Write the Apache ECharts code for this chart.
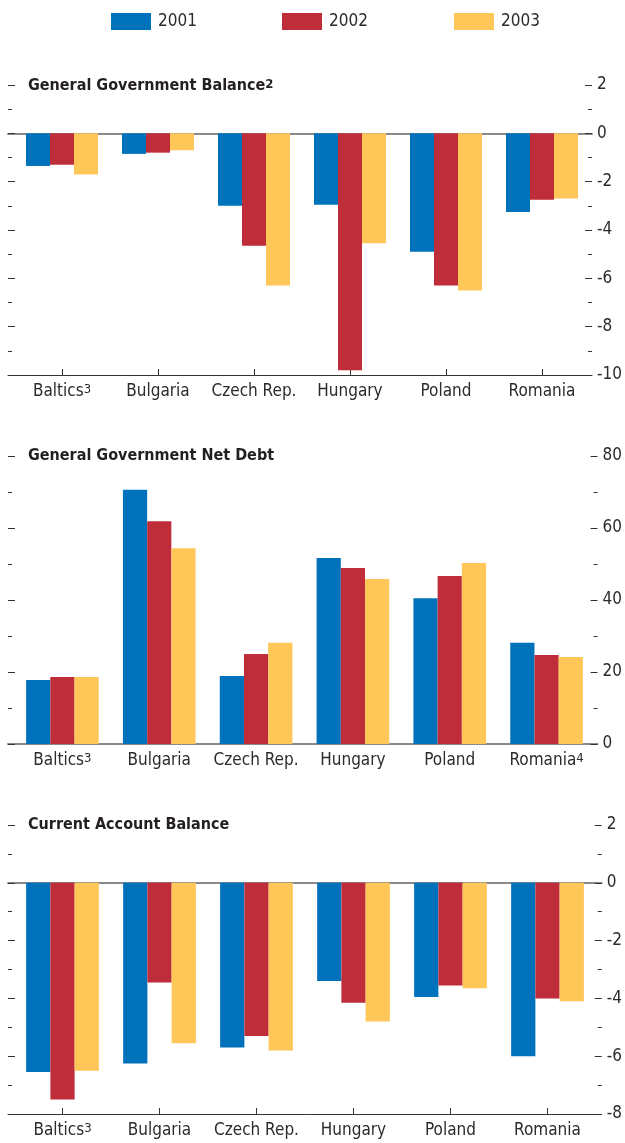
<!DOCTYPE html>
<html>
<head>
<meta charset="utf-8">
<script src="https://cdn.jsdelivr.net/npm/echarts@6/dist/echarts.min.js"></script>
<style>
html,body{margin:0;padding:0;background:#fff;}
#chart{width:625px;height:1143px;}
</style>
</head>
<body>
<div id="chart"></div>
<script>
// ---- data ----
var years = ['2001', '2002', '2003'];
var countries = ['Baltics', 'Bulgaria', 'Czech Rep.', 'Hungary', 'Poland', 'Romania'];
var notesBalance = ['3', '', '', '', '', ''];
var notesDebt = ['3', '', '', '', '', '4'];
var notesCA = ['3', '', '', '', '', ''];

var titleBalance = 'General Government Balance';
var titleBalanceNote = '2';
var titleDebt = 'General Government Net Debt';
var titleCA = 'Current Account Balance';

var balance2001 = [-1.35, -0.85, -3.0, -2.95, -4.9, -3.25];
var balance2002 = [-1.3, -0.8, -4.65, -9.8, -6.3, -2.75];
var balance2003 = [-1.7, -0.7, -6.3, -4.55, -6.5, -2.7];

var debt2001 = [17.8, 70.6, 18.9, 51.7, 40.5, 28.1];
var debt2002 = [18.6, 61.9, 25.0, 48.9, 46.7, 24.7];
var debt2003 = [18.6, 54.4, 28.1, 45.8, 50.3, 24.2];

var ca2001 = [-6.55, -6.25, -5.7, -3.4, -3.95, -6.0];
var ca2002 = [-7.5, -3.45, -5.3, -4.15, -3.55, -4.0];
var ca2003 = [-6.5, -5.55, -5.8, -4.8, -3.65, -4.1];

// axis ranges (tick labels come from these)
var balanceAxis = [-10, 2, 2];   // min, max, interval
var debtAxis = [0, 80, 20];
var caAxis = [-8, 2, 2];

// ---- style ----
var colors = ['#0072BC', '#BF2C3A', '#FFC658'];
var FONT = "'Liberation Sans Narrow', 'DejaVu Sans Condensed', 'Roboto', sans-serif";
var TXT = '#2b2b2b';
var FS = 17;

var grids = [], xAxes = [], yAxes = [], series = [], titles = [];

function panel(cfg) {
  var fIdx = grids.length;
  grids.push({left: 8, right: cfg.frameRight, top: cfg.top, height: cfg.height});
  var bIdx = grids.length;
  grids.push({left: 14, right: cfg.frameRight + 6, top: cfg.top, height: cfg.height});

  // frame bottom line
  xAxes.push({gridIndex: fIdx, type: 'value', min: 0, max: 1, position: 'bottom',
    axisLine: {show: true, onZero: false, lineStyle: {color: cfg.bottomColor, width: cfg.bottomWidth}},
    axisTick: {show: false}, axisLabel: {show: false}, splitLine: {show: false}});
  if (cfg.zeroLine) {
    xAxes.push({gridIndex: fIdx, type: 'value', min: 0, max: 1, position: 'top',
      axisLine: {show: true, onZero: true, lineStyle: {color: '#8a8a8a', width: 2}},
      axisTick: {show: false}, axisLabel: {show: false}, splitLine: {show: false}});
  }
  var catIdx = xAxes.length;
  xAxes.push({gridIndex: bIdx, type: 'category', data: countries, position: 'bottom',
    axisLine: {show: false, onZero: false},
    axisTick: {show: cfg.catTicks, alignWithLabel: true, inside: true, length: 6, lineStyle: {color: '#333', width: 1}},
    axisLabel: {interval: 0, margin: 8, fontFamily: FONT, fontSize: FS, color: TXT,
      formatter: function (v, i) { return cfg.notes[i] ? v + '{sup|' + cfg.notes[i] + '}' : v; },
      rich: {sup: {fontFamily: FONT, fontSize: 13, color: TXT, verticalAlign: 'top', lineHeight: 13}}},
    splitLine: {show: false}});

  var yBase = {gridIndex: fIdx, type: 'value', min: cfg.axis[0], max: cfg.axis[1], interval: cfg.axis[2],
    axisLine: {show: false, onZero: false},
    axisTick: {show: true, inside: true, length: 7, lineStyle: {color: '#333', width: 1}},
    minorTick: {show: true, splitNumber: 2, length: 4, lineStyle: {color: '#333', width: 1}},
    splitLine: {show: false}};
  yAxes.push(Object.assign({}, yBase, {position: 'left', axisLabel: {show: false}}));
  yAxes.push(Object.assign({}, yBase, {position: 'right',
    axisLabel: {show: true, margin: 5, fontFamily: FONT, fontSize: FS, color: TXT}}));
  var yb = yAxes.length;
  yAxes.push({gridIndex: bIdx, type: 'value', min: cfg.axis[0], max: cfg.axis[1], show: false});

  cfg.data.forEach(function (d, k) {
    series.push({type: 'bar', name: years[k], xAxisIndex: catIdx, yAxisIndex: yb, data: d,
      itemStyle: {color: colors[k]}, barGap: '0%', barCategoryGap: '25%', animation: false});
  });

  titles.push({text: cfg.title + (cfg.titleNote ? '{sup|' + cfg.titleNote + '}' : ''),
    left: 28, top: cfg.titleTop, padding: 0,
    textStyle: {fontFamily: FONT, fontSize: 16, fontWeight: 'bold', color: '#231f20',
      rich: {sup: {fontFamily: FONT, fontSize: 13, fontWeight: 'bold', color: '#231f20', verticalAlign: 'top', lineHeight: 13}}}});
}

panel({top: 85, height: 290, frameRight: 29, axis: balanceAxis, zeroLine: true, catTicks: true,
  bottomColor: '#333', bottomWidth: 1, notes: notesBalance,
  data: [balance2001, balance2002, balance2003], title: titleBalance, titleNote: titleBalanceNote, titleTop: 78});
panel({top: 456, height: 288, frameRight: 24, axis: debtAxis, zeroLine: false, catTicks: false,
  bottomColor: '#8a8a8a', bottomWidth: 2, notes: notesDebt,
  data: [debt2001, debt2002, debt2003], title: titleDebt, titleTop: 448});
panel({top: 825, height: 289, frameRight: 23, axis: caAxis, zeroLine: true, catTicks: true,
  bottomColor: '#333', bottomWidth: 1, notes: notesCA,
  data: [ca2001, ca2002, ca2003], title: titleCA, titleTop: 817});

var legendLefts = [111, 282, 454];
var legends = years.map(function (y, k) {
  return {data: [y], left: legendLefts[k], top: 13, padding: 0, itemWidth: 40, itemHeight: 17,
    icon: 'rect', selectedMode: false,
    textStyle: {fontFamily: FONT, fontSize: FS, color: TXT, padding: [0, 0, 0, 2]}};
});

var chart = echarts.init(document.getElementById('chart'), null, {renderer: 'canvas'});
chart.setOption({
  animation: false,
  backgroundColor: '#fff',
  title: titles,
  legend: legends,
  grid: grids,
  xAxis: xAxes,
  yAxis: yAxes,
  series: series
});
</script>
</body>
</html>
